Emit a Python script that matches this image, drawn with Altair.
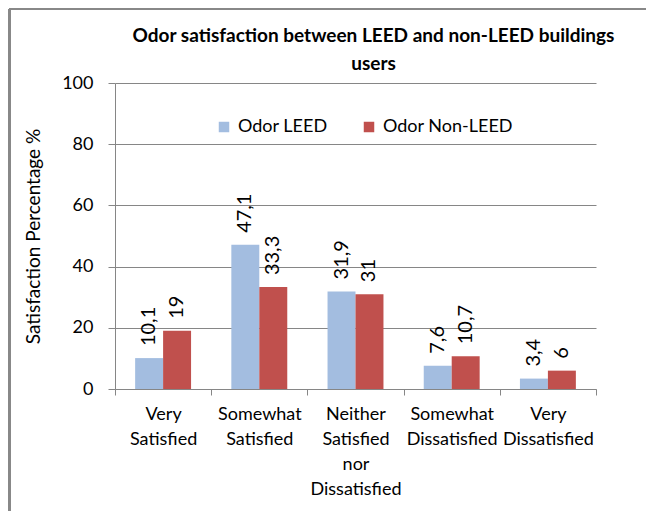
import altair as alt
import pandas as pd

categories = ["Very\nSatisfied", "Somewhat\nSatisfied", "Neither\nSatisfied\nnor\nDissatisfied",
              "Somewhat\nDissatisfied", "Very\nDissatisfied"]
series = ["Odor LEED", "Odor Non-LEED"]
leed = [10.1, 47.1, 31.9, 7.6, 3.4]
non_leed = [19, 33.3, 31, 10.7, 6]
colors = ["#A3BDE0", "#C0504D"]

rows = []
for c, a, b in zip(categories, leed, non_leed):
    rows.append({"cat": c, "series": series[0], "value": a})
    rows.append({"cat": c, "series": series[1], "value": b})
df = pd.DataFrame(rows)

FONT = "Lato"

base = alt.Chart(df).transform_calculate(
    lab="replace(toString(datum.value), '.', ',')"
)

x = alt.X("cat:N", sort=categories, title=None,
          scale=alt.Scale(paddingInner=0, paddingOuter=0),
          axis=alt.Axis(labelExpr="split(datum.label, '\\n')", labelAngle=0,
                        labelFontSize=18, labelLineHeight=25, labelColor="#000000",
                        labelFont=FONT, labelPadding=10, tickBand="extent",
                        tickSize=6, tickColor="#868686", domainColor="#868686",
                        labelBaseline="top"))
xo = alt.XOffset("series:N", sort=series,
                 scale=alt.Scale(paddingOuter=0.72, paddingInner=0))

bars = base.mark_bar().encode(
    x=x, xOffset=xo,
    y=alt.Y("value:Q", scale=alt.Scale(domain=[0, 100]),
            title="Satisfaction Percentage %",
            axis=alt.Axis(values=[0, 20, 40, 60, 80, 100], labelFontSize=18,
                          labelFont=FONT, labelColor="#000000", labelPadding=15,
                          tickSize=7, tickColor="#868686", domainColor="#868686",
                          gridColor="#868686", titleFont=FONT, titleFontSize=19,
                          titleFontWeight="normal", titleColor="#000000",
                          titlePadding=18)),
    color=alt.Color("series:N", sort=series,
                    scale=alt.Scale(domain=series, range=colors),
                    legend=alt.Legend(title=None, orient="none", legendX=100, legendY=35,
                                      direction="horizontal", symbolType="square",
                                      symbolSize=110, symbolStrokeWidth=0,
                                      labelFontSize=18, labelFont=FONT,
                                      labelColor="#000000", columnPadding=32,
                                      labelOffset=5, fillColor="white")),
)

labels = base.mark_text(angle=270, align="left", baseline="middle", dx=12,
                        fontSize=20, font=FONT, color="#000000").encode(
    x=alt.X("cat:N", sort=categories), xOffset=xo, y="value:Q", text="lab:N"
)

frame_left = alt.Chart(df).mark_rule(color="#888888", strokeWidth=3, clip=False).encode(
    x=alt.value(-105.5), y=alt.value(-74), y2=alt.value(440))
frame_top = alt.Chart(df).mark_rule(color="#888888", strokeWidth=2, clip=False).encode(
    x=alt.value(-106), x2=alt.value(535), y=alt.value(-74))

chart = alt.layer(bars, labels, frame_left, frame_top).properties(
    width=481, height=306,
    title=alt.TitleParams(["Odor satisfaction between LEED and non-LEED buildings", "users"],
                          fontSize=19, fontWeight="bold", font=FONT, lineHeight=28,
                          anchor="middle", frame="group", dx=18, offset=-66,
                          color="#000000"),
    autosize=alt.AutoSizeParams(type="none"),
    padding={"left": 107, "top": 75, "right": 50, "bottom": 122},
).configure_view(stroke=None)

chart.save("out.html", embed_options={"renderer": "svg", "actions": False})
